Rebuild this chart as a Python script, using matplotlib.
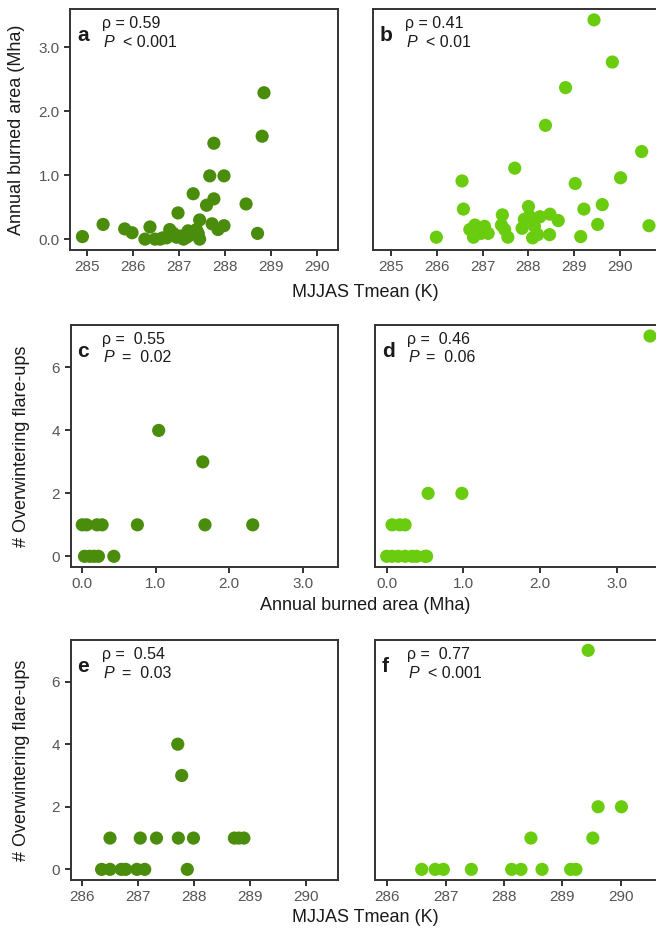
import matplotlib
matplotlib.use("Agg")
import matplotlib.pyplot as plt
from matplotlib.ticker import FormatStrFormatter

plt.rcParams['font.family'] = ['Liberation Sans', 'DejaVu Sans']

DARK = "#4a8c0c"
LIGHT = "#6acc0e"

# Panel a: MJJAS Tmean (K) vs annual burned area (Mha)
a_x = [284.9, 285.35, 285.82, 285.98, 286.37, 286.26, 286.48, 286.59, 286.8, 286.88,
       286.73, 286.98, 286.95, 287.1, 287.2, 287.31, 287.27, 287.45, 287.42, 287.45,
       287.38, 287.6, 287.67, 287.76, 287.76, 287.72, 287.85, 287.98, 287.98, 288.46,
       288.71, 288.81, 288.85, 287.17, 286.65, 287.05]
a_y = [0.04, 0.23, 0.16, 0.10, 0.19, 0.0, 0.0, 0.0, 0.15, 0.09,
       0.02, 0.41, 0.03, 0.0, 0.13, 0.71, 0.07, 0.30, 0.09, 0.0,
       0.15, 0.53, 0.99, 1.50, 0.63, 0.24, 0.15, 0.99, 0.21, 0.55,
       0.09, 1.61, 2.29, 0.03, 0.02, 0.05]

# Panel b
b_x = [285.99, 286.55, 286.58, 286.72, 286.83, 286.8, 286.9, 286.97, 287.12, 287.04,
       287.43, 287.41, 287.48, 287.55, 287.7, 287.86, 287.91, 288.0, 288.02, 288.13,
       288.09, 288.2, 288.25, 288.37, 288.47, 288.46, 288.65, 288.81, 289.02, 289.14,
       289.21, 289.43, 289.51, 289.61, 289.83, 290.01, 290.47, 290.63]
b_y = [0.03, 0.91, 0.47, 0.15, 0.22, 0.03, 0.15, 0.09, 0.09, 0.20,
       0.38, 0.22, 0.15, 0.03, 1.11, 0.17, 0.31, 0.51, 0.36, 0.20,
       0.02, 0.07, 0.35, 1.78, 0.39, 0.07, 0.29, 2.37, 0.87, 0.04,
       0.47, 3.43, 0.23, 0.54, 2.77, 0.96, 1.37, 0.21]

# Panel c: annual burned area (Mha) vs overwintering flare-ups
c_x = [0.0, 0.06, 0.2, 0.27, 0.75, 1.67, 2.32, 1.04, 1.64, 0.03, 0.1, 0.16, 0.22, 0.43]
c_y = [1, 1, 1, 1, 1, 1, 1, 4, 3, 0, 0, 0, 0, 0]

# Panel d
d_x = [3.43, 0.54, 0.98, 0.07, 0.17, 0.24, 0.0, 0.07, 0.15, 0.24, 0.33, 0.39, 0.5, 0.52]
d_y = [7, 2, 2, 1, 1, 1, 0, 0, 0, 0, 0, 0, 0, 0]

# Panel e: MJJAS Tmean (K) vs overwintering flare-ups
e_x = [286.35, 286.5, 286.7, 286.78, 286.98, 287.12, 287.88, 286.5, 287.04, 287.33,
       287.72, 287.99, 288.72, 288.8, 288.89, 287.71, 287.78]
e_y = [0, 0, 0, 0, 0, 0, 0, 1, 1, 1, 1, 1, 1, 1, 1, 4, 3]

# Panel f
f_x = [286.59, 286.82, 286.96, 287.44, 288.13, 288.29, 288.65, 289.14, 289.23, 288.46,
       289.52, 289.61, 290.01, 289.44]
f_y = [0, 0, 0, 0, 0, 0, 0, 0, 0, 1, 1, 2, 2, 7]

stats = {
    'a': ("ρ = 0.59", "<", "0.001"),
    'b': ("ρ = 0.41", "<", "0.01"),
    'c': ("ρ =  0.55", "=", "0.02"),
    'd': ("ρ =  0.46", "=", "0.06"),
    'e': ("ρ =  0.54", "=", "0.03"),
    'f': ("ρ =  0.77", "<", "0.001"),
}

W, H = 656, 934
fig = plt.figure(figsize=(W / 100, H / 100), dpi=100)


def add_ax(l, t, r, b):
    return fig.add_axes([l / W, 1 - b / H, (r - l) / W, (b - t) / H])


panels = {
    'a': (add_ax(70, 9, 338, 250), a_x, a_y, DARK, (284.63, 290.46), (-0.17, 3.6)),
    'b': (add_ax(373, 9, 660, 250), b_x, b_y, LIGHT, (284.607, 290.87), (-0.17, 3.6)),
    'c': (add_ax(70.5, 325, 338, 567), c_x, c_y, DARK, (-0.16, 3.48), (-0.34, 7.35)),
    'd': (add_ax(375, 325, 660, 567), d_x, d_y, LIGHT, (-0.152, 3.56), (-0.34, 7.35)),
    'e': (add_ax(70.5, 640, 338, 880), e_x, e_y, DARK, (285.795, 290.57), (-0.34, 7.33)),
    'f': (add_ax(375, 640, 660, 880), f_x, f_y, LIGHT, (285.79, 290.67), (-0.34, 7.33)),
}

for key, (ax, xs, ys, col, xl, yl) in panels.items():
    ax.scatter(xs, ys, s=90, color=col, edgecolors='none', zorder=3, clip_on=False)
    ax.set_xlim(*xl)
    ax.set_ylim(*yl)
    for sp in ax.spines.values():
        sp.set_color('#333333')
        sp.set_linewidth(1.4)
    ax.tick_params(axis='both', direction='out', length=4.5, width=1.4, color='#333333',
                   labelsize=11, labelcolor='#555555', pad=3)
    if key in ('a', 'b'):
        ax.set_xticks([285, 286, 287, 288, 289, 290])
        ax.set_yticks([0, 1, 2, 3])
        ax.yaxis.set_major_formatter(FormatStrFormatter('%.1f'))
    elif key in ('c', 'd'):
        ax.set_xticks([0, 1, 2, 3])
        ax.xaxis.set_major_formatter(FormatStrFormatter('%.1f'))
        ax.set_yticks([0, 2, 4, 6])
    else:
        ax.set_xticks([286, 287, 288, 289, 290])
        ax.set_yticks([0, 2, 4, 6])
    if key in ('b', 'd', 'f'):
        ax.tick_params(axis='y', left=False, labelleft=False)

    rho, op, pval = stats[key]
    ax.annotate(key, xy=(0, 1), xycoords='axes fraction', xytext=(5, -23),
                textcoords='offset points', fontsize=15, fontweight='bold',
                color='#1a1a1a', va='baseline')
    ax.annotate(rho, xy=(0, 1), xycoords='axes fraction', xytext=(23, -14),
                textcoords='offset points', fontsize=11.5, color='#1a1a1a', va='baseline')
    ax.annotate("P", xy=(0, 1), xycoords='axes fraction', xytext=(24, -27),
                textcoords='offset points', fontsize=11.5, style='italic',
                color='#1a1a1a', va='baseline')
    opx = 38 if op == "<" else 37
    optxt = op + " " + pval if op == "<" else op + "  " + pval
    ax.annotate(optxt, xy=(0, 1), xycoords='axes fraction', xytext=(opx, -27),
                textcoords='offset points', fontsize=11.5, color='#1a1a1a', va='baseline')

lab = dict(fontsize=13, color='#1a1a1a', ha='center', va='center')
fig.text(365 / W, 1 - 293 / H, "MJJAS Tmean (K)", **lab)
fig.text(365 / W, 1 - 606 / H, "Annual burned area (Mha)", **lab)
fig.text(365 / W, 1 - 918 / H, "MJJAS Tmean (K)", **lab)
fig.text(17 / W, 1 - 130 / H, "Annual burned area (Mha)", rotation=90, **lab)
fig.text(22 / W, 1 - 446 / H, "# Overwintering flare-ups", rotation=90, **lab)
fig.text(22 / W, 1 - 760 / H, "# Overwintering flare-ups", rotation=90, **lab)

fig.savefig("out.png", dpi=100)
